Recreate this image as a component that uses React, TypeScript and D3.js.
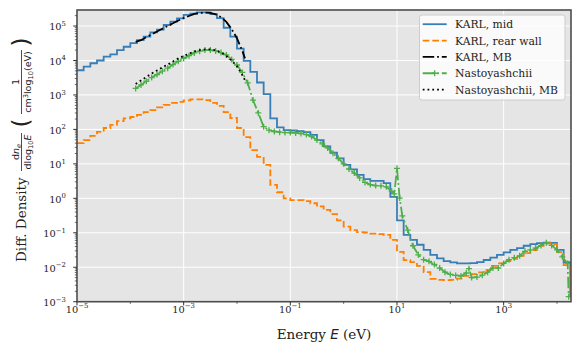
import React from 'react';
import * as d3 from 'd3';

// KARL histogram bin edges, log10(E / eV); the last entry closes the last bin
const karlLogEdges = [
  -5, -4.875, -4.75, -4.625, -4.5, -4.375, -4.25, -4.125, -4, -3.875, -3.75, -3.625, -3.5, -3.375,
  -3.25, -3.125, -3, -2.875, -2.75, -2.625, -2.5, -2.375, -2.25, -2.125, -2, -1.875, -1.75, -1.625,
  -1.5, -1.375, -1.25, -1.125, -1, -0.875, -0.75, -0.625, -0.5, -0.375, -0.25, -0.125, 0, 0.125,
  0.25, 0.375, 0.5, 0.625, 0.75, 0.875, 1, 1.125, 1.25, 1.375, 1.5, 1.625, 1.75, 1.875, 2, 2.125,
  2.25, 2.375, 2.5, 2.625, 2.75, 2.875, 3, 3.125, 3.25, 3.375, 3.5, 3.625, 3.75, 3.875, 4, 4.125,
  4.25, 4.375,
];

// KARL, mid (per bin)
const karlMid = [
  5.2e3, 6.6e3, 8.3e3, 1.0e4, 1.3e4, 1.5e4, 2.0e4, 2.5e4, 3.2e4, 3.9e4, 4.9e4, 6.5e4, 7.9e4, 1.07e5,
  1.35e5, 1.66e5, 2.1e5, 2.3e5, 2.5e5, 2.5e5, 2.2e5, 1.7e5, 8.9e4, 4.9e4, 2.2e4, 9.8e3, 4.7e3, 2.3e3,
  1.05e3, 210, 115, 95, 93, 89, 83, 69, 49, 32, 21, 14.5, 9.3, 6.9, 4.8, 3.6, 3.2, 3.2, 2.75, 1.1,
  0.23, 0.087, 0.062, 0.045, 0.032, 0.023, 0.018, 0.015, 0.0138, 0.0129, 0.0129, 0.0132, 0.0141,
  0.0162, 0.019, 0.023, 0.027, 0.032, 0.036, 0.042, 0.047, 0.05, 0.052, 0.051, 0.032, 0.0141, 0.0015,
];

// KARL, rear wall (per bin)
const karlRear = [
  40, 49, 65, 85, 110, 135, 174, 209, 229, 263, 316, 363, 437, 513, 589, 631, 692, 741, 741, 708, 589,
  479, 316, 214, 110, 60, 25, 16, 9.3, 2.45, 1.5, 1.0, 0.89, 0.89, 0.83, 0.72, 0.58, 0.46, 0.35, 0.23,
  0.15, 0.12, 0.105, 0.102, 0.095, 0.091, 0.087, 0.062, 0.028, 0.016, 0.014, 0.011, 0.0072, 0.0046,
  0.0043, 0.0042, 0.0043, 0.0047, 0.0056, 0.0063, 0.0071, 0.0083, 0.011, 0.0129, 0.015, 0.0174,
  0.0214, 0.0257, 0.0316, 0.0417, 0.05, 0.047, 0.0275, 0.0115, 0.00155,
];

// Maxwell-Boltzmann fits, log10(E / eV)
const mbLogE = [
  -3.9, -3.8, -3.7, -3.6, -3.5, -3.4, -3.3, -3.2, -3.1, -3.0, -2.9, -2.8, -2.7, -2.6, -2.5, -2.4,
  -2.3, -2.2, -2.1, -2.0, -1.9, -1.85,
];
const karlMB = [
  34700, 38900, 47900, 57500, 69200, 83200, 100000, 120000, 145000, 170000, 195000, 224000, 240000,
  245000, 240000, 219000, 182000, 132000, 81000, 44000, 19000, 11500,
];
const nastMB = [
  2090, 2630, 3310, 4170, 5130, 6310, 7590, 9330, 11500, 13500, 15800, 18200, 20000, 20900, 20900,
  20000, 17000, 13500, 10000, 6760, 3800, 2690,
];

// Nastoyashchii, log10(E / eV) and density
const nastLogE = [
  -3.9, -3.8, -3.7, -3.6, -3.5, -3.4, -3.3, -3.2, -3.1, -3.0, -2.9, -2.8, -2.7, -2.6, -2.5, -2.4,
  -2.3, -2.2, -2.1, -2.0, -1.9, -1.8, -1.7, -1.6, -1.5, -1.4, -1.3, -1.2, -1.1, -1.0, -0.9, -0.8,
  -0.7, -0.6, -0.5, -0.4, -0.3, -0.2, -0.1, 0, 0.1, 0.2, 0.3, 0.4, 0.5, 0.6, 0.7, 0.8, 0.9, 0.95,
  1.0, 1.05, 1.1, 1.2, 1.3, 1.4, 1.5, 1.6, 1.7, 1.8, 1.9, 2.0, 2.1, 2.2, 2.3, 2.35, 2.4, 2.5, 2.6,
  2.7, 2.8, 2.9, 3.0, 3.1, 3.2, 3.3, 3.4, 3.5, 3.6, 3.7, 3.8, 3.9, 4.0, 4.1, 4.2, 4.22,
];
const nast = [
  1550, 1950, 2500, 3200, 3900, 4900, 6000, 7600, 9500, 11500, 13800, 16600, 18600, 20000, 20000,
  19000, 17000, 14500, 10700, 7400, 4500, 2240, 710, 300, 120, 95, 87, 83, 81, 81, 79, 76, 71, 62,
  49, 38, 29, 20.4, 14.5, 10, 7.1, 5.4, 3.9, 2.9, 2.5, 2.35, 2.3, 2.15, 1.6, 1.35, 7.4, 1.02, 0.31,
  0.12, 0.042, 0.023, 0.0166, 0.0148, 0.012, 0.0095, 0.0072, 0.0062, 0.0058, 0.0056, 0.0068, 0.0091,
  0.005, 0.0052, 0.0059, 0.0072, 0.0095, 0.0095, 0.0129, 0.0166, 0.019, 0.0214, 0.029, 0.032, 0.036,
  0.043, 0.051, 0.043, 0.032, 0.02, 0.0129, 0.0014,
];

const xTickExps = [-5, -3, -1, 1, 3];
const xMinorExps = [-4, -2, 0, 2, 4];
const yTickExps = [-3, -2, -1, 0, 1, 2, 3, 4, 5];

const legendItems = [
  { label: 'KARL, mid', color: '#377eb8', dash: 'none', marker: false },
  { label: 'KARL, rear wall', color: '#ff7f00', dash: '6.7,2.9', marker: false },
  { label: 'KARL, MB', color: '#000000', dash: '11.5,2.9,1.8,2.9', marker: false },
  { label: 'Nastoyashchii', color: '#4daf4a', dash: '11.5,2.9,1.8,2.9', marker: true },
  { label: 'Nastoyashchii, MB', color: '#000000', dash: '1.8,3', marker: false },
];

const W = 581;
const H = 355;
const L = 77, R = 571, T = 10, B = 301.7;
const serif = '"DejaVu Serif", serif';
const sans = '"DejaVu Sans", sans-serif';
const LW = 1.8;

const sup = (e: number) => (e < 0 ? '\u2212' + Math.abs(e) : String(e));

const Plus = ({ x, y, color }: { x: number; y: number; color: string }) => (
  <path d={`M${x - 3},${y}H${x + 3}M${x},${y - 3}V${y + 3}`} stroke={color} strokeWidth={1.3} />
);

export default function App() {
  const x = d3.scaleLog().domain([1e-5, 10 ** 4.263]).range([L, R]);
  const y = d3.scaleLog().domain([1e-3, 10 ** 5.465]).range([B, T]);

  const stepLine = d3
    .line<[number, number]>()
    .x(d => x(10 ** d[0]))
    .y(d => y(d[1]))
    .curve(d3.curveStepAfter);
  const plainLine = d3
    .line<[number, number]>()
    .x(d => x(10 ** d[0]))
    .y(d => y(d[1]));

  const stepPts = (vals: number[]) => {
    const pts: [number, number][] = vals.map((v, i) => [karlLogEdges[i], v]);
    pts.push([karlLogEdges[vals.length], vals[vals.length - 1]]);
    return pts;
  };

  const midPath = stepLine(stepPts(karlMid)) || '';
  const rearPath = stepLine(stepPts(karlRear)) || '';
  const karlMBPath = plainLine(mbLogE.map((e, i) => [e, karlMB[i]] as [number, number])) || '';
  const nastPts = nastLogE.map((e, i) => [e, nast[i]] as [number, number]);
  const nastPath = plainLine(nastPts) || '';
  const nastMBPath = plainLine(mbLogE.map((e, i) => [e, nastMB[i]] as [number, number])) || '';

  const yMinor: number[] = [];
  for (let k = -3; k <= 5; k++) {
    for (let m = 2; m <= 9; m++) {
      const v = m * 10 ** k;
      if (v < y.domain()[1]) yMinor.push(v);
    }
  }

  const legX = 419.5, legY = 15, legW = 145.5, legH = 85;
  const rowH = 16.35;

  return (
    <svg width={W} height={H} style={{ position: 'absolute', left: 0, top: 0, background: '#fff' }}>
      <defs>
        <clipPath id="plotClip">
          <rect x={L} y={T} width={R - L} height={B - T} />
        </clipPath>
      </defs>
      <rect x={L} y={T} width={R - L} height={B - T} fill="#e5e5e5" />

      {/* grid */}
      {xTickExps.map(e => (
        <line key={'gx' + e} x1={x(10 ** e)} x2={x(10 ** e)} y1={T} y2={B} stroke="#fff" strokeWidth={1} />
      ))}
      {yTickExps.map(e => (
        <line key={'gy' + e} x1={L} x2={R} y1={y(10 ** e)} y2={y(10 ** e)} stroke="#fff" strokeWidth={1} />
      ))}

      <g clipPath="url(#plotClip)" fill="none" strokeWidth={LW}>
        <path d={midPath} stroke="#377eb8" />
        <path d={rearPath} stroke="#ff7f00" strokeDasharray="6.7,2.9" />
        <path d={karlMBPath} stroke="#000" strokeDasharray="11.5,2.9,1.8,2.9" />
        <path d={nastPath} stroke="#4daf4a" strokeDasharray="11.5,2.9,1.8,2.9" />
        {nastPts.map((p, i) => (
          <Plus key={'m' + i} x={x(10 ** p[0])} y={y(p[1])} color="#4daf4a" />
        ))}
        <path d={nastMBPath} stroke="#000" strokeDasharray="1.8,3" />
      </g>

      {/* spines */}
      <rect x={L} y={T} width={R - L} height={B - T} fill="none" stroke="#4d4d4d" strokeWidth={1.6} />

      {/* x ticks */}
      {xTickExps.map(e => (
        <g key={'xt' + e}>
          <line x1={x(10 ** e)} x2={x(10 ** e)} y1={B} y2={B + 3.8} stroke="#333" strokeWidth={1} />
          <text x={x(10 ** e)} y={313} textAnchor="middle" fontFamily={serif} fontSize={9.8} fill="#222">
            10<tspan dy={-4.8} fontSize={6.9}>{sup(e)}</tspan>
          </text>
        </g>
      ))}
      {xMinorExps.map(e => (
        <line key={'xm' + e} x1={x(10 ** e)} x2={x(10 ** e)} y1={B} y2={B + 2.2} stroke="#333" strokeWidth={0.7} />
      ))}

      {/* y ticks */}
      {yMinor.map((v, i) => (
        <line key={'ym' + i} x1={L - 2.2} x2={L} y1={y(v)} y2={y(v)} stroke="#333" strokeWidth={0.7} />
      ))}
      {yTickExps.map(e => (
        <g key={'yt' + e}>
          <line x1={L - 3.8} x2={L} y1={y(10 ** e)} y2={y(10 ** e)} stroke="#333" strokeWidth={1} />
          <text x={66} y={y(10 ** e) + 4.3} textAnchor="end" fontFamily={serif} fontSize={9.8} fill="#222">
            10<tspan dy={-4.5} fontSize={6.9}>{sup(e)}</tspan>
          </text>
        </g>
      ))}

      {/* x label */}
      <text x={(L + R) / 2} y={339} textAnchor="middle" fontFamily={serif} fontSize={13.5} fill="#222">
        Energy <tspan fontFamily={sans} fontStyle="italic">E</tspan> (eV)
      </text>

      {/* y label */}
      <g transform="translate(25.5,262) rotate(-90)" fill="#222">
        <text x={0} y={0} fontFamily={serif} fontSize={13.5}>Diff. Density</text>
        <text x={110} y={-6.3} textAnchor="middle" fontFamily={sans} fontSize={9.5}>
          d<tspan fontStyle="italic">n</tspan>
          <tspan fontStyle="italic" fontSize={6.7} dy={1.8}>e</tspan>
        </text>
        <line x1={91} x2={129} y1={-4} y2={-4} stroke="#222" strokeWidth={0.8} />
        <text x={110} y={5.5} textAnchor="middle" fontFamily={sans} fontSize={9.5}>
          dlog<tspan fontSize={6.7} dy={1.8}>10</tspan>
          <tspan fontStyle="italic" dy={-1.8}>E</tspan>
        </text>
        <text x={139} y={3.5} textAnchor="middle" fontFamily={sans} fontSize={23}>(</text>
        <text x={180} y={-6.3} textAnchor="middle" fontFamily={sans} fontSize={9.5}>1</text>
        <line x1={148} x2={212} y1={-4} y2={-4} stroke="#222" strokeWidth={0.8} />
        <text x={180} y={5.5} textAnchor="middle" fontFamily={sans} fontSize={9.5}>
          cm<tspan fontSize={6.7} dy={-3.4}>3</tspan>
          <tspan dy={3.4}>log</tspan>
          <tspan fontSize={6.7} dy={1.8}>10</tspan>
          <tspan dy={-1.8}>(eV)</tspan>
        </text>
        <text x={220} y={3.5} textAnchor="middle" fontFamily={sans} fontSize={23}>)</text>
      </g>

      {/* legend */}
      <rect x={legX} y={legY} width={legW} height={legH} rx={2.5} fill="#fff" fillOpacity={0.8} stroke="#ccc" strokeWidth={1} />
      {legendItems.map((it, i) => {
        const cy = legY + 9.2 + i * rowH;
        return (
          <g key={it.label}>
            <line x1={422.7} x2={446.7} y1={cy} y2={cy} stroke={it.color} strokeWidth={LW} strokeDasharray={it.dash} />
            {it.marker && <Plus x={434.7} y={cy} color={it.color} />}
            <text x={455} y={cy + 4} fontFamily={serif} fontSize={10.8} fill="#222">{it.label}</text>
          </g>
        );
      })}
    </svg>
  );
}
